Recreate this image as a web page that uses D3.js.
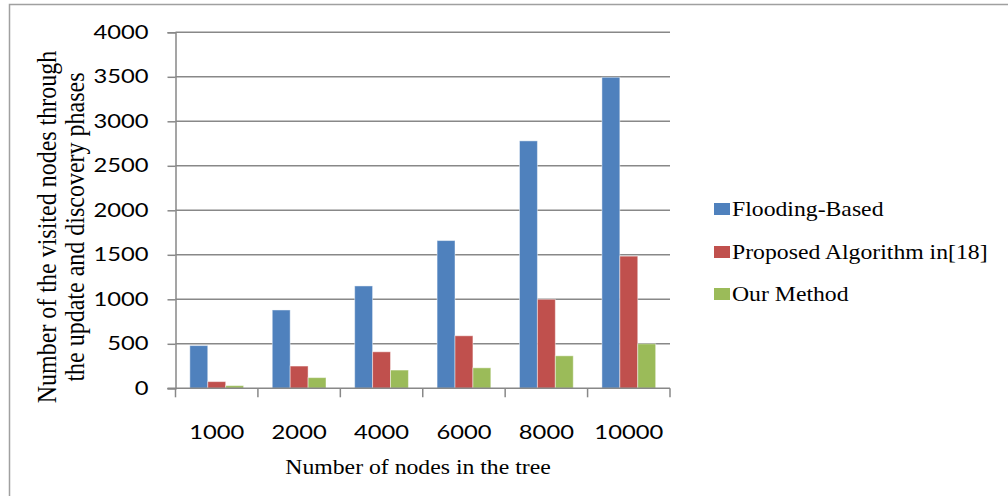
<!DOCTYPE html>
<html>
<head>
<meta charset="utf-8">
<script src="https://cdn.jsdelivr.net/npm/d3@7"></script>
<style>
  html, body { margin: 0; padding: 0; background: #fff; }
  svg { display: block; }
</style>
</head>
<body>
<svg id="chart" width="1008" height="496"></svg>
<script>
// Number of nodes in the tree (x categories)
const categories = ["1000", "2000", "4000", "6000", "8000", "10000"];
const seriesNames = ["Flooding-Based", "Proposed Algorithm in[18]", "Our Method"];
const flooding = [480, 880, 1150, 1660, 2780, 3495];
const proposed = [75, 250, 410, 590, 1000, 1485];
const ourMethod = [30, 120, 205, 230, 365, 500];
const yTicks = [0, 500, 1000, 1500, 2000, 2500, 3000, 3500, 4000];
const colors = ["#4F81BD", "#C0504D", "#9BBB59"];

const seriesValues = [flooding, proposed, ourMethod];

const svg = d3.select("#chart");
const gridColor = "#888888";
const sans = "Lato, 'Open Sans', sans-serif";
const serif = "'Liberation Serif', 'Times New Roman', serif";

// Widen text horizontally around its anchor point
function widen(sel, sx) {
  sel.each(function () {
    const t = d3.select(this);
    const x0 = +t.attr("x") || 0;
    const y0 = +t.attr("y") || 0;
    t.attr("x", 0).attr("y", 0)
      .attr("transform", `translate(${x0},${y0}) scale(${sx},1)`);
  });
}

// Outer chart frame
svg.append("rect")
  .attr("x", 9.5).attr("y", 4.5)
  .attr("width", 1010).attr("height", 500)
  .attr("fill", "none")
  .attr("stroke", "#a0a0a0")
  .attr("stroke-width", 1.5);

const plot = { left: 175.5, right: 670, top: 32.3, bottom: 388.3 };

const x = d3.scaleBand()
  .domain(categories)
  .range([plot.left, plot.right])
  .padding(0);

const xInner = d3.scaleBand()
  .domain(d3.range(seriesNames.length))
  .range([0, x.bandwidth()])
  .paddingInner(0)
  .paddingOuter(0.8);

const y = d3.scaleLinear()
  .domain([0, 4000])
  .range([plot.bottom, plot.top]);

// Horizontal gridlines
svg.append("g")
  .selectAll("line")
  .data(yTicks.filter(d => d > 0))
  .join("line")
  .attr("x1", plot.left).attr("x2", plot.right)
  .attr("y1", d => y(d)).attr("y2", d => y(d))
  .attr("stroke", gridColor)
  .attr("stroke-width", 1.5);

// Bars
const groups = svg.append("g")
  .selectAll("g")
  .data(categories)
  .join("g")
  .attr("transform", d => `translate(${x(d)},0)`);

groups.selectAll("rect")
  .data((c, ci) => seriesValues.map((vals, si) => ({ si, v: vals[ci] })))
  .join("rect")
  .attr("x", d => xInner(d.si))
  .attr("width", xInner.bandwidth())
  .attr("y", d => y(d.v))
  .attr("height", d => y(0) - y(d.v))
  .attr("fill", d => colors[d.si])
  .attr("stroke", "rgba(255,255,255,0.45)")
  .attr("stroke-width", 1);

// Y axis
const yAxis = svg.append("g")
  .attr("transform", `translate(${plot.left},0)`)
  .call(d3.axisLeft(y).tickValues(yTicks).tickSize(8).tickPadding(19).tickFormat(d3.format("d")));
yAxis.select(".domain").attr("stroke", gridColor).attr("stroke-width", 1.5);
yAxis.selectAll(".tick line").attr("stroke", gridColor).attr("stroke-width", 1.5);
yAxis.selectAll(".tick text")
  .attr("font-family", sans)
  .attr("font-size", 19)
  .attr("fill", "#000")
  .call(widen, 1.25);

// X axis: ticks at category boundaries, labels at category centres
const xAxisG = svg.append("g").attr("transform", `translate(0,${plot.bottom})`);
xAxisG.append("line")
  .attr("x1", plot.left - 8).attr("x2", plot.right)
  .attr("stroke", gridColor).attr("stroke-width", 1.5);
const boundaries = categories.map(c => x(c)).concat([plot.right]);
xAxisG.selectAll("line.tk")
  .data(boundaries)
  .join("line")
  .attr("class", "tk")
  .attr("x1", d => d).attr("x2", d => d)
  .attr("y1", 0).attr("y2", 9)
  .attr("stroke", gridColor).attr("stroke-width", 1.5);
xAxisG.selectAll("text")
  .data(categories)
  .join("text")
  .attr("x", d => x(d) + x.bandwidth() / 2)
  .attr("y", 51)
  .attr("text-anchor", "middle")
  .attr("font-family", sans)
  .attr("font-size", 19)
  .attr("fill", "#000")
  .text(d => d)
  .call(widen, 1.25);

// Axis titles
svg.append("text")
  .attr("x", 418)
  .attr("y", 474)
  .attr("text-anchor", "middle")
  .attr("font-family", serif)
  .attr("font-size", 21)
  .attr("fill", "#000")
  .text("Number of nodes in the tree")
  .call(widen, 1.13);

const yTitle = svg.append("text")
  .attr("transform", "translate(56,227) rotate(-90) scale(1,1.16)")
  .attr("text-anchor", "middle")
  .attr("font-family", serif)
  .attr("font-size", 24)
  .attr("fill", "#000");
yTitle.append("tspan").attr("x", 0).attr("dy", 0).text("Number of the visited nodes through");
yTitle.append("tspan").attr("x", 0).attr("dy", 24.1).text("the update and discovery phases");

// Legend
const legend = svg.append("g").attr("transform", "translate(714,0)");
const legendY = [209, 252, 294];
const items = legend.selectAll("g")
  .data(seriesNames)
  .join("g")
  .attr("transform", (d, i) => `translate(0,${legendY[i]})`);
items.append("rect")
  .attr("x", 0).attr("y", -6)
  .attr("width", 16).attr("height", 12)
  .attr("fill", (d, i) => colors[i]);
items.append("text")
  .attr("x", 18).attr("y", 7)
  .attr("font-family", serif)
  .attr("font-size", 21)
  .attr("fill", "#000")
  .text(d => d)
  .call(widen, 1.13);
</script>
</body>
</html>
